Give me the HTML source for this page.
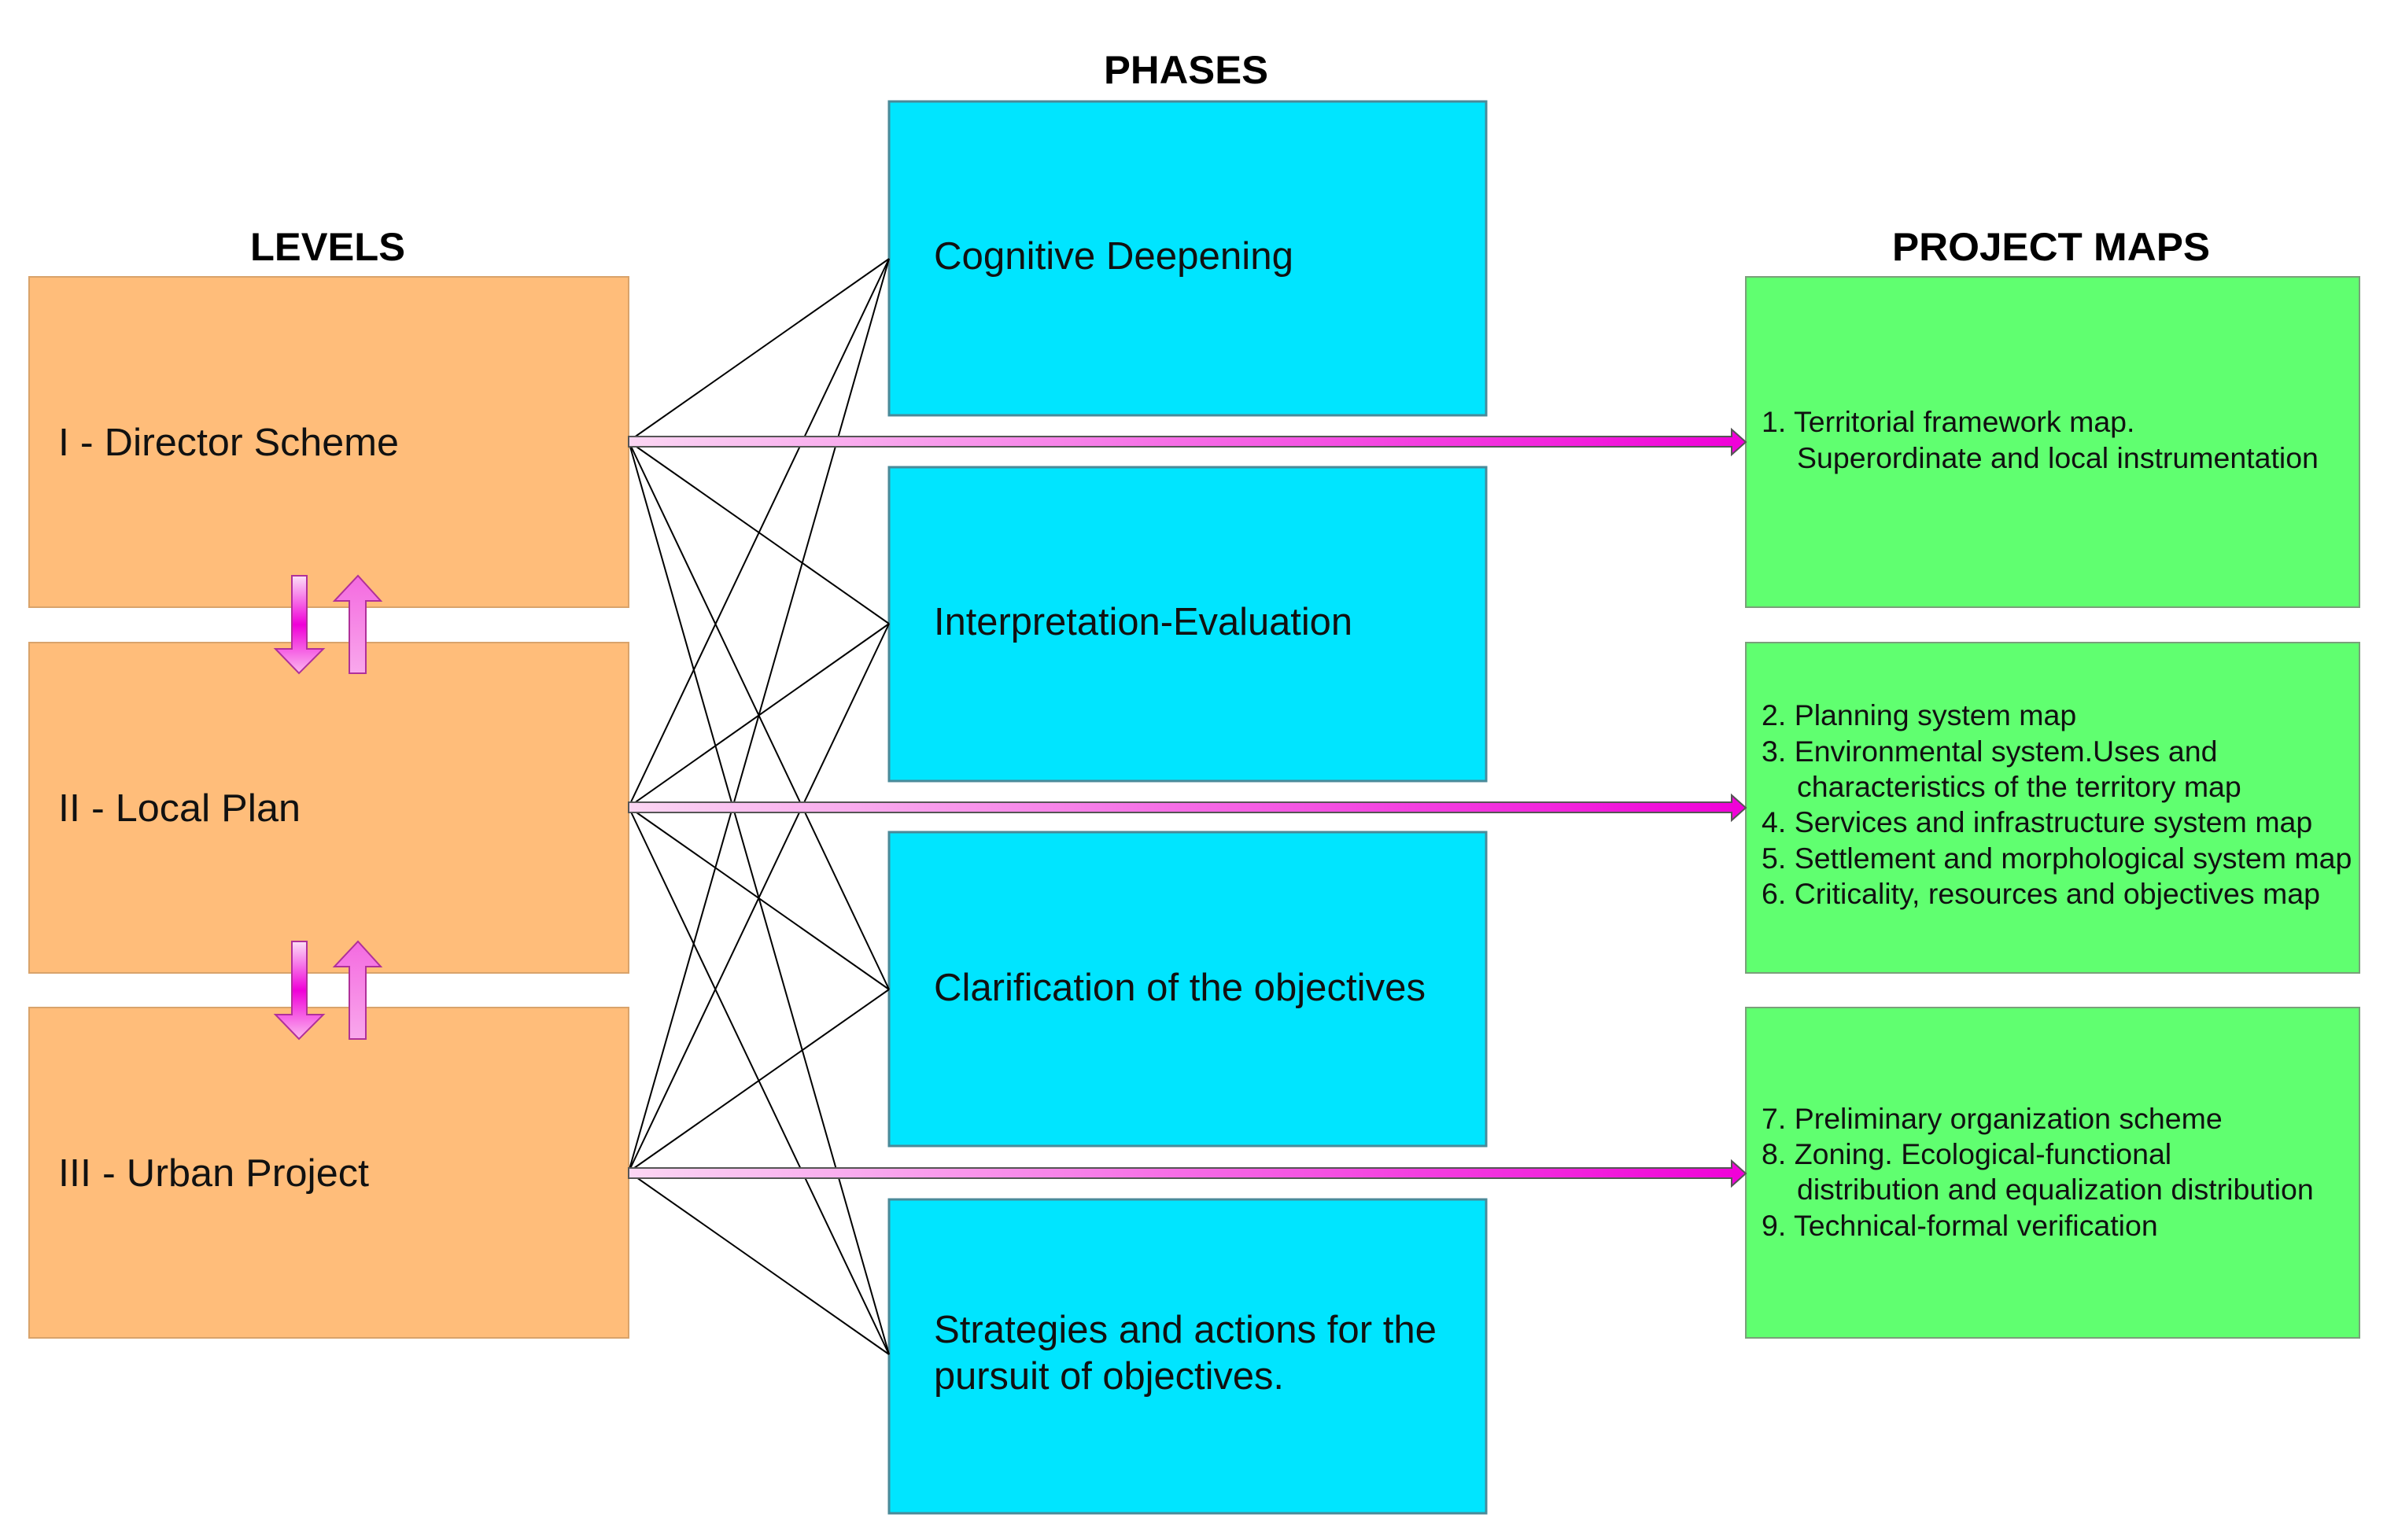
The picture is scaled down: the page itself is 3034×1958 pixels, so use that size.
<!DOCTYPE html>
<html><head><meta charset="utf-8"><style>html,body{margin:0;padding:0;background:#fff}svg{display:block}</style></head>
<body>
<svg width="3034" height="1958" viewBox="0 0 3034 1958" xmlns="http://www.w3.org/2000/svg" font-family="Liberation Sans, sans-serif">
<defs>
<linearGradient id="hg" x1="0" x2="1" y1="0" y2="0"><stop offset="0" stop-color="#fbd6f3"/><stop offset="1" stop-color="#f000d8"/></linearGradient>
<linearGradient id="vd" x1="0" x2="0" y1="0" y2="1"><stop offset="0" stop-color="#fce0f7"/><stop offset="0.5" stop-color="#f000d8"/><stop offset="1" stop-color="#fbb8ef"/></linearGradient>
<linearGradient id="vu" x1="0" x2="0" y1="0" y2="1"><stop offset="0" stop-color="#f46ae0"/><stop offset="1" stop-color="#f9a8ec"/></linearGradient>
</defs>
<g font-weight="bold" font-size="50" fill="#000" lengthAdjust="spacingAndGlyphs">
<text x="318" y="331" textLength="197" lengthAdjust="spacingAndGlyphs">LEVELS</text>
<text x="1403" y="106" textLength="209" lengthAdjust="spacingAndGlyphs">PHASES</text>
<text x="2405" y="331" textLength="404" lengthAdjust="spacingAndGlyphs">PROJECT MAPS</text>
</g>
<g fill="#ffbd7a" stroke="#d9a36b" stroke-width="2">
<rect x="37" y="352" width="762" height="420"/>
<rect x="37" y="817" width="762" height="420"/>
<rect x="37" y="1281" width="762" height="420"/>
</g>
<g fill="#00e5ff" stroke="#4a8a99" stroke-width="3">
<rect x="1130" y="129" width="759" height="399"/>
<rect x="1130" y="594" width="759" height="399"/>
<rect x="1130" y="1058" width="759" height="399"/>
<rect x="1130" y="1525" width="759" height="399"/>
</g>
<g fill="#60ff70" stroke="#7aa07a" stroke-width="2">
<rect x="2219" y="352" width="780" height="420"/>
<rect x="2219" y="817" width="780" height="420"/>
<rect x="2219" y="1281" width="780" height="420"/>
</g>
<g stroke="#000" stroke-width="2" fill="none">
<path d="M799 561L1130 329M799 561L1130 793M799 561L1130 1258M799 561L1130 1722"/>
<path d="M799 1026L1130 329M799 1026L1130 793M799 1026L1130 1258M799 1026L1130 1722"/>
<path d="M799 1490L1130 329M799 1490L1130 793M799 1490L1130 1258M799 1490L1130 1722"/>
</g>
<g stroke="#555" stroke-width="2" fill="url(#hg)">
<path d="M799 555H2201V546L2219 562L2201 578V568H799Z"/>
<path d="M799 1020H2201V1011L2219 1027L2201 1043V1033H799Z"/>
<path d="M799 1485H2201V1476L2219 1492L2201 1508V1498H799Z"/>
</g>
<g stroke="#b0309a" stroke-width="2">
<path d="M371 732H390V825H411L380 856L350 825H371Z" fill="url(#vd)"/>
<path d="M444 856H465V764H484L455 732L425 764H444Z" fill="url(#vu)"/>
<path d="M371 1197H390V1290H411L380 1321L350 1290H371Z" fill="url(#vd)"/>
<path d="M444 1321H465V1229H484L455 1197L425 1229H444Z" fill="url(#vu)"/>
</g>
<g font-size="49" fill="#111">
<text x="74" y="579" textLength="433" lengthAdjust="spacingAndGlyphs">I - Director Scheme</text>
<text x="74" y="1044" textLength="308" lengthAdjust="spacingAndGlyphs">II - Local Plan</text>
<text x="74" y="1508" textLength="395" lengthAdjust="spacingAndGlyphs">III - Urban Project</text>
<text x="1187" y="342" textLength="457" lengthAdjust="spacingAndGlyphs">Cognitive Deepening</text>
<text x="1187" y="807" textLength="532" lengthAdjust="spacingAndGlyphs">Interpretation-Evaluation</text>
<text x="1187" y="1272" textLength="625" lengthAdjust="spacingAndGlyphs">Clarification of the objectives</text>
<text x="1187" y="1707" textLength="639" lengthAdjust="spacingAndGlyphs">Strategies and actions for the</text>
<text x="1187" y="1766" textLength="445" lengthAdjust="spacingAndGlyphs">pursuit of objectives.</text>
</g>
<g font-size="37.5" fill="#111">
<text x="2239" y="549">1. Territorial framework map.</text>
<text x="2284" y="595">Superordinate and local instrumentation</text>
<text x="2239" y="922">2. Planning system map</text>
<text x="2239" y="968">3. Environmental system.Uses and</text>
<text x="2284" y="1013">characteristics of the territory map</text>
<text x="2239" y="1058">4. Services and infrastructure system map</text>
<text x="2239" y="1104">5. Settlement and morphological system map</text>
<text x="2239" y="1149">6. Criticality, resources and objectives map</text>
<text x="2239" y="1435">7. Preliminary organization scheme</text>
<text x="2239" y="1480">8. Zoning. Ecological-functional</text>
<text x="2284" y="1525">distribution and equalization distribution</text>
<text x="2239" y="1571">9. Technical-formal verification</text>
</g>
</svg>
</body></html>
